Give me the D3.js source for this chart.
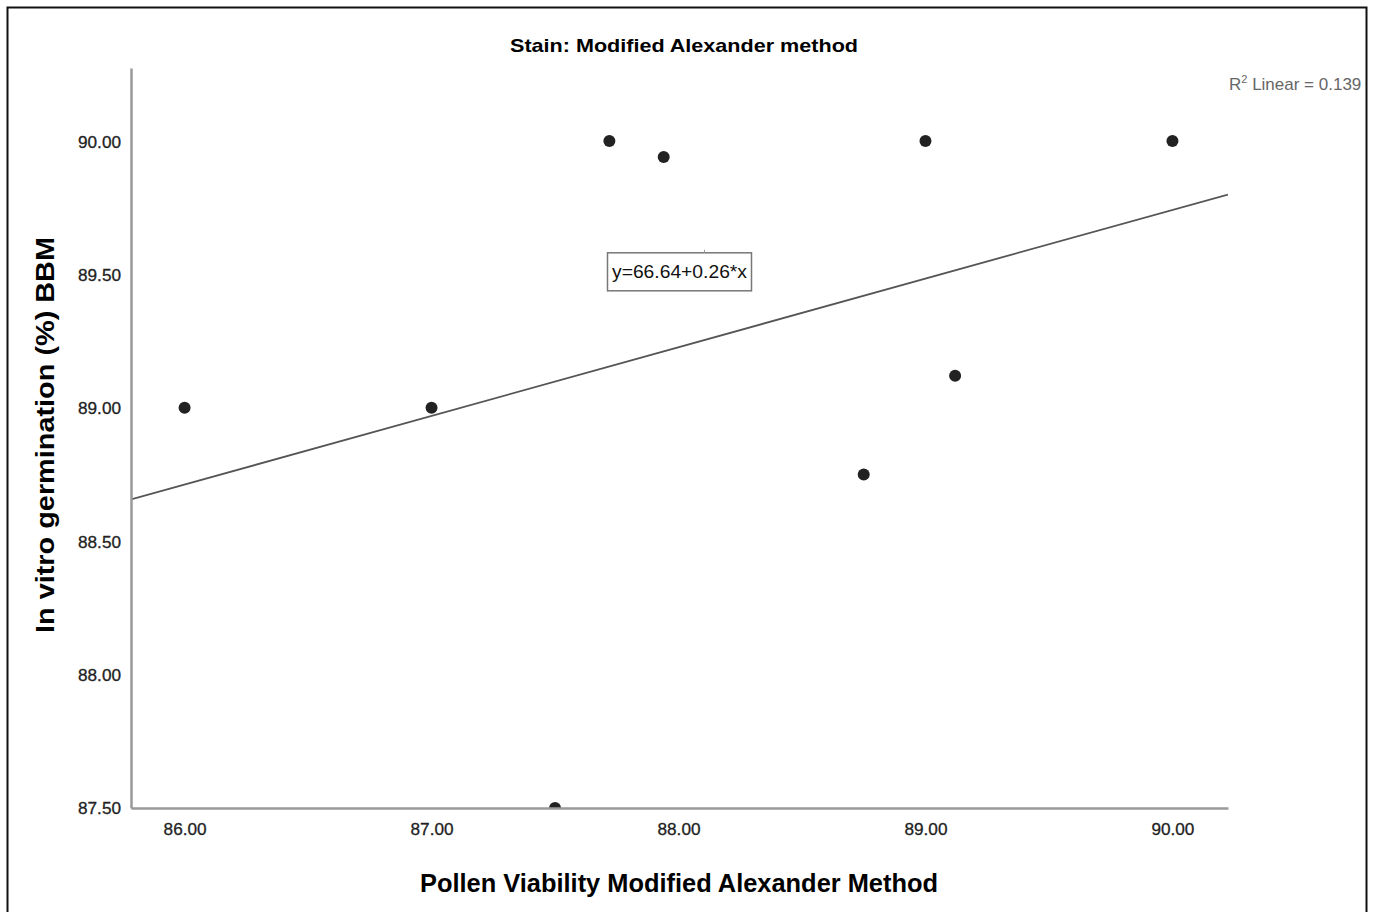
<!DOCTYPE html>
<html>
<head>
<meta charset="utf-8">
<script src="https://cdn.jsdelivr.net/npm/d3@7"></script>
<style>
  body { margin: 0; background: #fff; }
  text { font-family: "Liberation Sans", Arial, sans-serif; }
</style>
</head>
<body>
<script>
// data
var viability = [86.00, 87.00, 87.50, 87.72, 87.94, 88.75, 89.00, 89.12, 90.00];
var germination = [89.00, 89.00, 87.50, 90.00, 89.94, 88.75, 90.00, 89.12, 90.00];
var xTicks = [86, 87, 88, 89, 90];
var yTicks = [87.5, 88, 88.5, 89, 89.5, 90];
var chartTitle = "Stain: Modified Alexander method";
var xTitle = "Pollen Viability Modified Alexander Method";
var yTitle = "In vitro germination (%) BBM";
var fitLabel = "y=66.64+0.26*x";
var r2Label = "Linear = 0.139";

var W = 1381, H = 912;
var margin = { top: 68, right: 153, bottom: 104, left: 131 },
  width = W - margin.left - margin.right,
  height = H - margin.top - margin.bottom;

var svg = d3.select("body").append("svg")
  .attr("width", W)
  .attr("height", H);

var x = d3.scaleLinear().domain([85.783, 90.225]).range([0, width]);
var y = d3.scaleLinear().domain([87.5, 90.274]).range([height, 0]);

var g = svg.append("g")
  .attr("transform", "translate(" + margin.left + "," + margin.top + ")");

g.append("clipPath").attr("id", "plot")
  .append("rect").attr("width", width).attr("height", height);

// least squares fit
var data = viability.map(function (d, i) { return { x: d, y: germination[i] }; });
var mx = d3.mean(viability), my = d3.mean(germination);
var sxy = d3.sum(data, function (d) { return (d.x - mx) * (d.y - my); });
var sxx = d3.sum(data, function (d) { return (d.x - mx) * (d.x - mx); });
var slope = sxy / sxx, icpt = my - slope * mx;
var xd = x.domain();

g.append("line")
  .attr("clip-path", "url(#plot)")
  .attr("x1", x(xd[0])).attr("y1", y(icpt + slope * xd[0]))
  .attr("x2", x(xd[1])).attr("y2", y(icpt + slope * xd[1]))
  .attr("stroke", "#555").attr("stroke-width", 1.8);

// points
g.append("g").attr("clip-path", "url(#plot)")
  .selectAll("circle")
  .data(data)
  .enter().append("circle")
  .attr("cx", function (d) { return x(d.x); })
  .attr("cy", function (d) { return y(d.y); })
  .attr("r", 6)
  .attr("fill", "#222");

// axes
var xAxis = g.append("g")
  .attr("transform", "translate(0," + height + ")")
  .call(d3.axisBottom(x).tickValues(xTicks).tickSize(0).tickPadding(15).tickFormat(d3.format(".2f")));
var yAxis = g.append("g")
  .call(d3.axisLeft(y).tickValues(yTicks).tickSize(0).tickPadding(10).tickFormat(d3.format(".2f")));
[xAxis, yAxis].forEach(function (a) {
  a.select(".domain").attr("stroke", "#999").attr("stroke-width", 2.5);
  a.selectAll("text").attr("fill", "#222").style("font-size", "17px")
    .style("font-family", '"Liberation Sans", Arial, sans-serif')
    .attr("textLength", 43).attr("lengthAdjust", "spacingAndGlyphs")
    .attr("stroke", "#222").attr("stroke-width", 0.3);
});
yAxis.selectAll("text").attr("dy", "0.35em");

// equation box
var lx = x(88.004), ly = y(89.51);
var lbl = g.append("text")
  .attr("x", lx).attr("y", ly)
  .attr("text-anchor", "middle").attr("dy", "0.35em")
  .style("font-size", "18px").attr("fill", "#111")
  .attr("textLength", 135).attr("lengthAdjust", "spacingAndGlyphs")
  .text(fitLabel);
g.insert("rect", function () { return lbl.node(); })
  .attr("x", lx - 72).attr("y", ly - 19)
  .attr("width", 144).attr("height", 38)
  .attr("fill", "#fff").attr("stroke", "#777").attr("stroke-width", 1.5);
g.append("line")
  .attr("x1", lx + 25).attr("x2", lx + 25)
  .attr("y1", ly - 19).attr("y2", ly - 22)
  .attr("stroke", "#999");

// R squared
var r2 = svg.append("text")
  .attr("x", 1229).attr("y", 90)
  .style("font-size", "17px").attr("fill", "#666");
r2.append("tspan").text("R");
r2.append("tspan").attr("dy", -7).style("font-size", "11px").text("2");
r2.append("tspan").attr("dy", 7).text(" " + r2Label);

// titles
svg.append("text")
  .attr("x", 684).attr("y", 52)
  .attr("text-anchor", "middle")
  .style("font-size", "19px").style("font-weight", "bold")
  .attr("textLength", 348).attr("lengthAdjust", "spacingAndGlyphs")
  .text(chartTitle);

svg.append("text")
  .attr("x", 679).attr("y", 892)
  .attr("text-anchor", "middle")
  .style("font-size", "25px").style("font-weight", "bold")
  .attr("textLength", 518).attr("lengthAdjust", "spacingAndGlyphs")
  .text(xTitle);

svg.append("text")
  .attr("transform", "translate(54,435) rotate(-90)")
  .attr("text-anchor", "middle")
  .style("font-size", "25px").style("font-weight", "bold")
  .attr("textLength", 396).attr("lengthAdjust", "spacingAndGlyphs")
  .text(yTitle);

// outer frame
svg.append("rect")
  .attr("x", 1368).attr("y", 0).attr("width", 13).attr("height", H)
  .attr("fill", "#fff");
svg.append("rect")
  .attr("x", 7.5).attr("y", 7.5)
  .attr("width", 1359).attr("height", 912)
  .attr("fill", "none").attr("stroke", "#111").attr("stroke-width", 2);
</script>
</body>
</html>
